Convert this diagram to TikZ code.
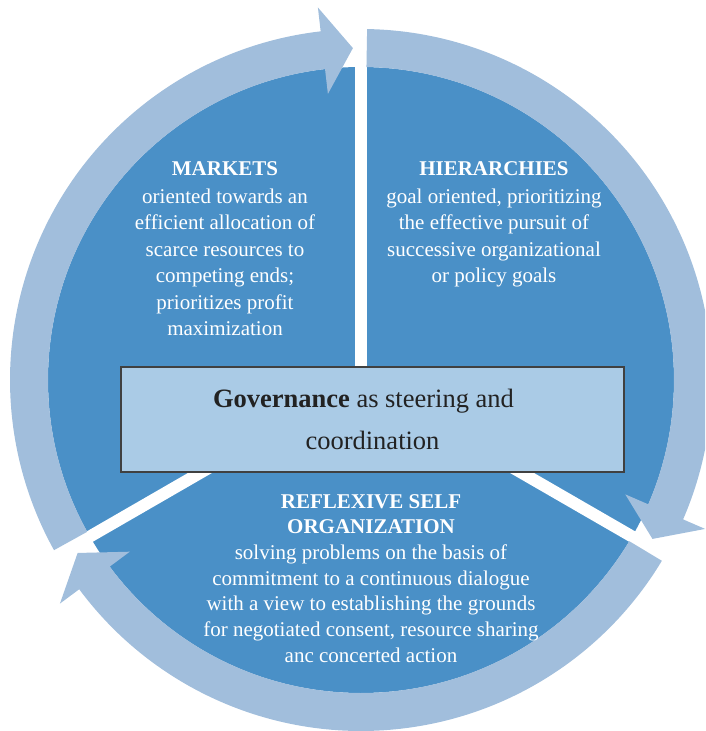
\documentclass[tikz,border=0pt]{standalone}
\usepackage{fontspec}
\setmainfont{Liberation Serif}
\definecolor{discblue}{RGB}{74,144,199}
\definecolor{ringblue}{RGB}{161,190,220}
\definecolor{boxblue}{RGB}{170,203,230}
\definecolor{boxline}{RGB}{64,64,64}
\definecolor{boxtext}{RGB}{34,34,34}
\tikzset{
  sectortext/.style={text=white, align=center, inner sep=0pt, anchor=north,
    font=\fontsize{21}{26.5}\selectfont},
  gapline/.style={draw=white, line width=12pt},
  ringpart/.style={fill=ringblue},
  govbox/.style={draw=boxline, line width=1.5pt, fill=boxblue,
    minimum width=503pt, minimum height=105pt, inner sep=0pt,
    text=boxtext, align=center, font=\fontsize{26.5}{42}\selectfont}
}
% curved ring segment with an arrow head: #1 start angle, #2 head base angle, #3 tip angle
\newcommand\ringarrow[3]{%
  \fill[ringpart] (#1:313) arc[start angle=#1, end angle=#2, radius=313]
    -- (#2:288) -- (#3:332) -- (#2:375) -- (#2:351)
    arc[start angle=#2, end angle=#1, radius=351] -- cycle;
}
\begin{document}
\begin{tikzpicture}[x=1pt,y=1pt]
  \useasboundingbox (-361,-351) rectangle (344,380);
  \clip (-361,-351) rectangle (344,380);
  % the disc split into three sectors
  \fill[discblue] (0,0) circle[radius=313];
  \foreach \a in {90,-30,210} \draw[gapline] (0,0) -- (\a:385);
  % clockwise cycle of arrows round the rim
  \ringarrow{209}{96.6}{91.4}
  \ringarrow{89}{-23.4}{-28.6}
  \ringarrow{-31}{-143.4}{-148.6}
  % sector texts
  \node[sectortext] (markets) at (-136,219)
    {\textbf{MARKETS}\\[1.5pt] oriented towards an\\ efficient allocation of\\
     scarce resources to\\ competing ends;\\ prioritizes profit\\ maximization};
  \node[sectortext] (hierarchies) at (133,219)
    {\textbf{HIERARCHIES}\\[1.5pt] goal oriented, prioritizing\\ the effective pursuit of\\
     successive organizational\\ or policy goals};
  \node[sectortext, font=\fontsize{21}{25.7}\selectfont] (reflexive) at (10,-114)
    {\textbf{REFLEXIVE SELF}\\ \textbf{ORGANIZATION}\\ solving problems on the basis of\\
     commitment to a continuous dialogue\\ with a view to establishing the grounds\\
     for negotiated consent, resource sharing\\ anc concerted action};
  % central box
  \node[govbox] (governance) at (11.5,-39.5)
    {\textbf{Governance} as steering and\hspace*{18pt}\\ coordination};
\end{tikzpicture}
\end{document}
